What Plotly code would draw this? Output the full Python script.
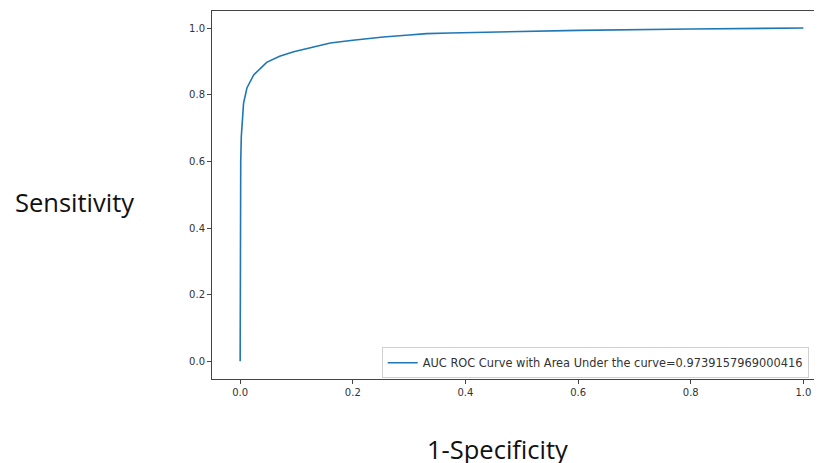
import plotly.graph_objects as go

fpr = [0.0, 0.0, 0.0005, 0.001, 0.002, 0.003, 0.006, 0.012, 0.024, 0.047, 0.07, 0.095,
       0.125, 0.16, 0.2, 0.254, 0.3, 0.331, 0.373, 0.45, 0.6, 0.8, 1.0]
tpr = [0.0, 0.3, 0.5, 0.6, 0.674, 0.71, 0.774, 0.82, 0.859, 0.897, 0.915, 0.929,
       0.941, 0.955, 0.963, 0.973, 0.979, 0.983, 0.985, 0.988, 0.993, 0.997, 1.0]
auc_label = "AUC ROC Curve with Area Under the curve=0.9739157969000416"
xticks = [0.0, 0.2, 0.4, 0.6, 0.8, 1.0]
yticks = [0.0, 0.2, 0.4, 0.6, 0.8, 1.0]

fig = go.Figure()
fig.add_trace(go.Scatter(x=fpr, y=tpr, mode="lines", name=auc_label,
                         line=dict(color="#1f77b4", width=1.6)))

axis_common = dict(showgrid=False, zeroline=False, showline=True, linecolor="#444",
                   linewidth=1, ticks="outside", ticklen=4, tickcolor="#444",
                   tickfont=dict(family="DejaVu Sans", size=10, color="#333"))

fig.update_layout(
    width=814, height=455,
    margin=dict(l=204, r=0, t=3, b=84, autoexpand=False),
    paper_bgcolor="white", plot_bgcolor="white",
    xaxis=dict(range=[-0.05, 1.033], tickvals=xticks,
               ticktext=[f"{v:.1f}" for v in xticks], mirror=True, **axis_common),
    yaxis=dict(range=[-0.053, 1.051], tickvals=yticks,
               ticktext=[f"{v:.1f}" for v in yticks], **axis_common),
    showlegend=True,
    legend=dict(x=0.2782, y=0.0443, xanchor="left", yanchor="middle",
                bgcolor="rgba(255,255,255,0.8)", bordercolor="#d0d0d0", borderwidth=1,
                font=dict(family="DejaVu Sans", size=11.4, color="#333")),
    annotations=[
        dict(text="Sensitivity", xref="paper", yref="paper", x=-0.3267, y=0.481,
             xanchor="left", yanchor="middle", showarrow=False,
             font=dict(family="Open Sans", size=25.5, color="#111")),
        dict(text="1-Specificity", xref="paper", yref="paper", x=0.349, y=-0.19,
             xanchor="left", yanchor="middle", showarrow=False,
             font=dict(family="Open Sans", size=25.5, color="#111")),
    ],
)

fig.write_html("out.html")
